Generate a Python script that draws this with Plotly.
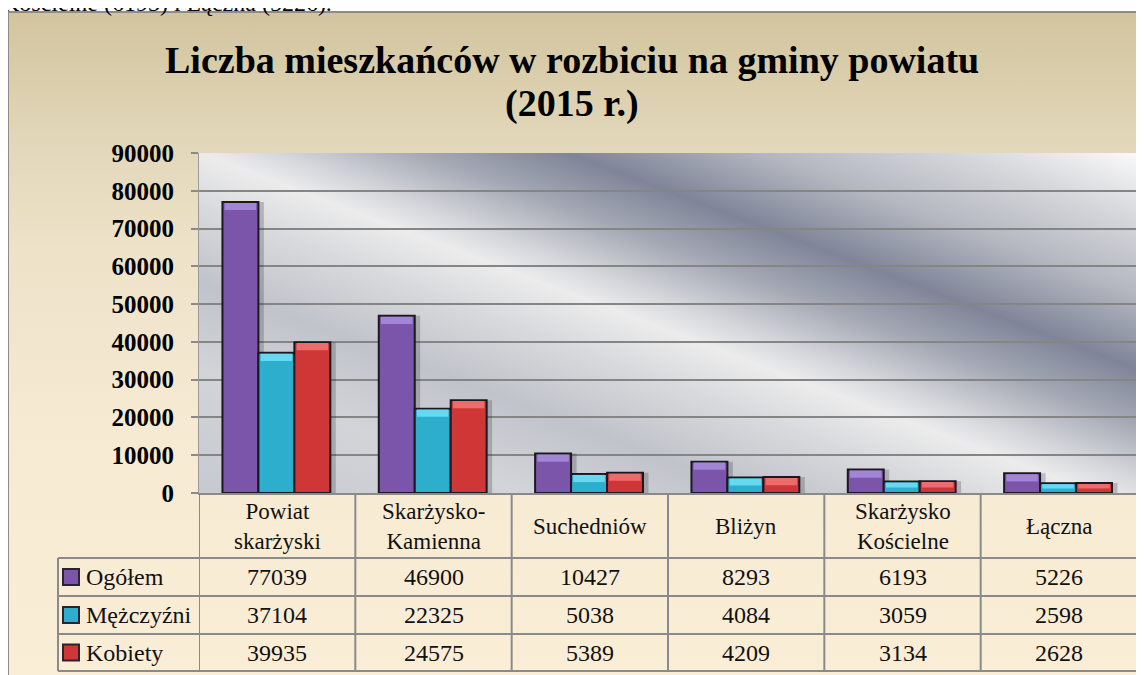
import base64
import plotly.graph_objects as go

# the page body has an 8px margin, so the figure is placed 8px in from the top-left
OFF = 8
W, H = 1144 - OFF, 675 - OFF

categories = ["Powiat skarżyski", "Skarżysko-Kamienna", "Suchedniów", "Bliżyn", "Skarżysko Kościelne", "Łączna"]
header_labels = ["Powiat<br>skarżyski", "Skarżysko-<br>Kamienna", "Suchedniów", "Bliżyn", "Skarżysko<br>Kościelne", "Łączna"]
series_names = ["Ogółem", "Mężczyźni", "Kobiety"]
ogolem = [77039, 46900, 10427, 8293, 6193, 5226]
mezczyzni = [37104, 22325, 5038, 4084, 3059, 2598]
kobiety = [39935, 24575, 5389, 4209, 3134, 2628]
colors = ["#7a55aa", "#2eaecd", "#cf3737"]
highlights = ["#a285d6", "#66d8ef", "#ec6b6b"]

title_line1 = "Liczba mieszkańców w rozbiciu na gminy powiatu"
title_line2 = "(2015 r.)"
top_text = "Kościelne (6193) i Łączna (5226)."

FONT = "Liberation Serif"


def px(x):
    return (x - OFF) / W


def py(y):
    return 1 - (y - OFF) / H


def svg_uri(svg):
    return "data:image/svg+xml;base64," + base64.b64encode(svg.encode("utf-8")).decode()


frame_svg = """<svg xmlns='http://www.w3.org/2000/svg' width='100' height='100' viewBox='0 0 100 100' preserveAspectRatio='none'>
<defs><linearGradient id='g' x1='0' y1='0' x2='0' y2='1'>
<stop offset='0' stop-color='#d2c49e'/><stop offset='0.18' stop-color='#e1d6b8'/>
<stop offset='0.35' stop-color='#ede3c9'/><stop offset='0.6' stop-color='#f6ead2'/>
<stop offset='1' stop-color='#fbeed7'/></linearGradient></defs>
<rect width='100' height='100' fill='url(#g)'/></svg>"""

stops = [(0, "#fafafa"), (0.097, "#d6d7db"), (0.204, "#b4b7c0"), (0.31, "#7f8598"),
         (0.389, "#a4a8b4"), (0.465, "#d4d5da"), (0.51, "#ececec"), (0.588, "#d8d9dc"),
         (0.696, "#c0c3ca"), (0.82, "#d2d4d8"), (1, "#c6c9d0")]
stop_txt = "".join("<stop offset='%s' stop-color='%s'/>" % s for s in stops)
plot_svg = ("<svg xmlns='http://www.w3.org/2000/svg' width='938' height='340' viewBox='0 0 938 340' preserveAspectRatio='none'>"
            "<defs><linearGradient id='p' gradientUnits='userSpaceOnUse' x1='938' y1='0' x2='707' y2='609'>"
            + stop_txt + "</linearGradient></defs><rect width='938' height='340' fill='url(#p)'/></svg>")

fig = go.Figure()

offsets = [-0.35, -0.12, 0.11]
bw = 0.23
all_series = [ogolem, mezczyzni, kobiety]

# soft shadows to the right of bars
for vals, off in zip(all_series, offsets):
    fig.add_trace(go.Bar(x=categories, y=vals, offset=off + 0.035, width=bw,
                         marker=dict(color="rgba(40,40,50,0.24)", line=dict(width=0)),
                         hoverinfo="skip", showlegend=False))

for name, vals, col, off in zip(series_names, all_series, colors, offsets):
    fig.add_trace(go.Bar(name=name, x=categories, y=vals, offset=off, width=bw,
                         marker=dict(color=col, line=dict(color="#1c1820", width=2)),
                         showlegend=False))

# lighter bevel on top of each bar
for vals, hl, off in zip(all_series, highlights, offsets):
    cap = [min(1900, v * 0.45) for v in vals]
    fig.add_trace(go.Bar(x=categories, y=cap, base=[v - c - 250 for v, c in zip(vals, cap)],
                         offset=off + 0.014, width=bw - 0.028,
                         marker=dict(color=hl, line=dict(width=0)),
                         hoverinfo="skip", showlegend=False))

shapes = []
annotations = []

# frame border
shapes.append(dict(type="rect", xref="paper", yref="paper", x0=px(8), x1=px(1160), y0=py(700), y1=py(12),
                   line=dict(color="#8c8c8c", width=2), fillcolor="rgba(0,0,0,0)", layer="above"))

# table grid
grid = dict(color="#8a8a8a", width=2)
for i in range(len(categories) + 1):
    shapes.append(dict(type="line", xref="x", yref="paper", x0=i - 0.5, x1=i - 0.5,
                       y0=py(671), y1=py(493), line=grid))
for yy in [558, 596, 634, 671]:
    shapes.append(dict(type="line", xref="paper", yref="paper", x0=px(58), x1=px(1137),
                       y0=py(yy), y1=py(yy), line=grid))
shapes.append(dict(type="line", xref="paper", yref="paper", x0=px(58), x1=px(58),
                   y0=py(671), y1=py(558), line=grid))

# header cells
for cat, lab in zip(categories, header_labels):
    annotations.append(dict(x=cat, xref="x", y=py(526), yref="paper", text=lab, showarrow=False,
                            xanchor="center", yanchor="middle",
                            font=dict(family=FONT, size=23, color="#111")))

row_centers = [577, 615, 652.5]
for name, vals, col, yc in zip(series_names, all_series, colors, row_centers):
    shapes.append(dict(type="rect", xref="paper", yref="paper", x0=px(63), x1=px(79),
                       y0=py(yc + 8), y1=py(yc - 8), fillcolor=col,
                       line=dict(color="#2a2430", width=2)))
    annotations.append(dict(x=px(84), xref="paper", y=py(yc), yref="paper", text=name, showarrow=False,
                            xanchor="left", yanchor="middle",
                            font=dict(family=FONT, size=24, color="#111")))
    for cat, v in zip(categories, vals):
        annotations.append(dict(x=cat, xref="x", y=py(yc), yref="paper", text=str(v), showarrow=False,
                                xanchor="center", yanchor="middle",
                                font=dict(family=FONT, size=24, color="#111")))

# title
annotations.append(dict(x=px(572), y=py(60), xref="paper", yref="paper", text=title_line1, showarrow=False,
                        xanchor="center", yanchor="middle",
                        font=dict(family=FONT, size=38, color="#000", weight="bold")))
annotations.append(dict(x=px(572), y=py(103), xref="paper", yref="paper", text=title_line2, showarrow=False,
                        xanchor="center", yanchor="middle",
                        font=dict(family=FONT, size=38, color="#000", weight="bold")))
# text of the page above the chart (cut by the top edge, as in the source)
annotations.append(dict(x=px(0), y=py(18), xref="paper", yref="paper", text=top_text, showarrow=False,
                        xanchor="left", yanchor="bottom",
                        font=dict(family=FONT, size=24, color="#000")))

fig.update_layout(
    width=W, height=H,
    margin=dict(l=0, r=0, t=0, b=0, autoexpand=False),
    paper_bgcolor="white",
    plot_bgcolor="rgba(0,0,0,0)",
    barmode="overlay",
    showlegend=False,
    shapes=shapes,
    annotations=annotations,
    images=[
        dict(source=svg_uri(frame_svg), xref="paper", yref="paper", x=px(8), y=py(12),
             sizex=px(1160) - px(8), sizey=py(12) - py(700), sizing="stretch", layer="below"),
        dict(source=svg_uri(plot_svg), xref="paper", yref="paper", x=px(199), y=py(153),
             sizex=px(1137) - px(199), sizey=py(153) - py(493), sizing="stretch", layer="below"),
    ],
    xaxis=dict(domain=[px(199), px(1137)], range=[-0.5, 5.5], showticklabels=False, automargin=False,
               showgrid=False, showline=True, linecolor="#8a8a8a", linewidth=2, ticks="", fixedrange=True),
    yaxis=dict(domain=[py(493), py(153)], range=[0, 90000], dtick=10000, tick0=0, tickformat="d",
               automargin=False,
               showgrid=True, gridcolor="#858585", gridwidth=2, zeroline=False,
               showline=True, linecolor="#9a9a9a", linewidth=1,
               ticks="outside", ticklen=7, tickwidth=2, tickcolor="#8a8a8a",
               ticklabelstandoff=12,
               tickfont=dict(family=FONT, size=25, color="#000", weight="bold")),
)

fig.write_html("out.html")
